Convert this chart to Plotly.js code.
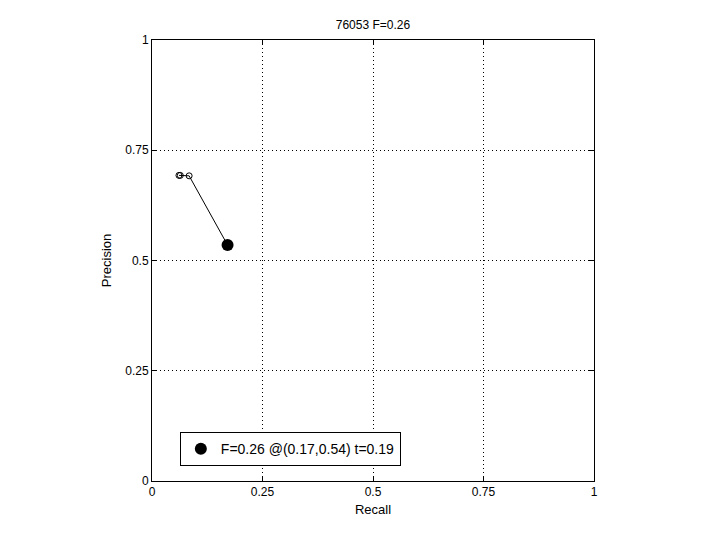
<!DOCTYPE html>
<html>
<head>
<meta charset="utf-8">
<script src="https://cdn.plot.ly/plotly-3.0.1.min.js"></script>
<style>body{margin:0;padding:0;background:#fff;}</style>
</head>
<body>
<div id="chart" style="width:720px;height:540px;"></div>
<script>
const curveRecall = [0.061, 0.064, 0.084, 0.171];
const curvePrecision = [0.693, 0.693, 0.692, 0.535];
const bestRecall = [0.171];
const bestPrecision = [0.535];
const bestLabel = 'F=0.26 @(0.17,0.54) t=0.19';
const tickVals = [0, 0.25, 0.5, 0.75, 1];
const tickText = ['0', '0.25', '0.5', '0.75', '1'];
const chartTitle = '76053 F=0.26';

const traces = [
  {
    x: curveRecall, y: curvePrecision, mode: 'lines+markers', type: 'scatter',
    line: {color: '#000', width: 1},
    marker: {symbol: 'circle-open', size: 6, color: '#000', line: {width: 1, color: '#000'}},
    showlegend: false, hoverinfo: 'skip'
  },
  {
    x: bestRecall, y: bestPrecision, mode: 'markers', type: 'scatter',
    marker: {symbol: 'circle', size: 12, color: '#000'},
    name: bestLabel, showlegend: true
  }
];

const axisCommon = {
  range: [0, 1], tickvals: tickVals, ticktext: tickText,
  ticks: 'inside', ticklen: 5, tickcolor: '#000', tickwidth: 1,
  showline: true, linecolor: '#000', linewidth: 1, mirror: 'ticks',
  showgrid: true, gridcolor: '#000', gridwidth: 1, griddash: '1px,3px',
  zeroline: false, tickfont: {size: 12, color: '#000'}, fixedrange: true
};

const layout = {
  width: 720, height: 540,
  margin: {l: 152, r: 126, t: 40, b: 59},
  paper_bgcolor: '#fff', plot_bgcolor: '#fff',
  font: {family: 'Liberation Sans, Arial, sans-serif', size: 12, color: '#000'},
  title: {text: chartTitle, x: 0.518, xanchor: 'center', y: 0.955, yanchor: 'middle', font: {size: 12}},
  xaxis: Object.assign({}, axisCommon, {title: {text: 'Recall', standoff: 6, font: {size: 13}}}),
  yaxis: Object.assign({}, axisCommon, {title: {text: 'Precision', standoff: 10, font: {size: 13}}}),
  legend: {
    x: 0.063, y: 0.111, xanchor: 'left', yanchor: 'top',
    bgcolor: '#fff', bordercolor: '#000', borderwidth: 1,
    font: {size: 14, color: '#000'}, itemwidth: 30, tracegroupgap: 0
  },
  showlegend: true
};

Plotly.newPlot('chart', traces, layout, {displayModeBar: false, staticPlot: true});
</script>
</body>
</html>
